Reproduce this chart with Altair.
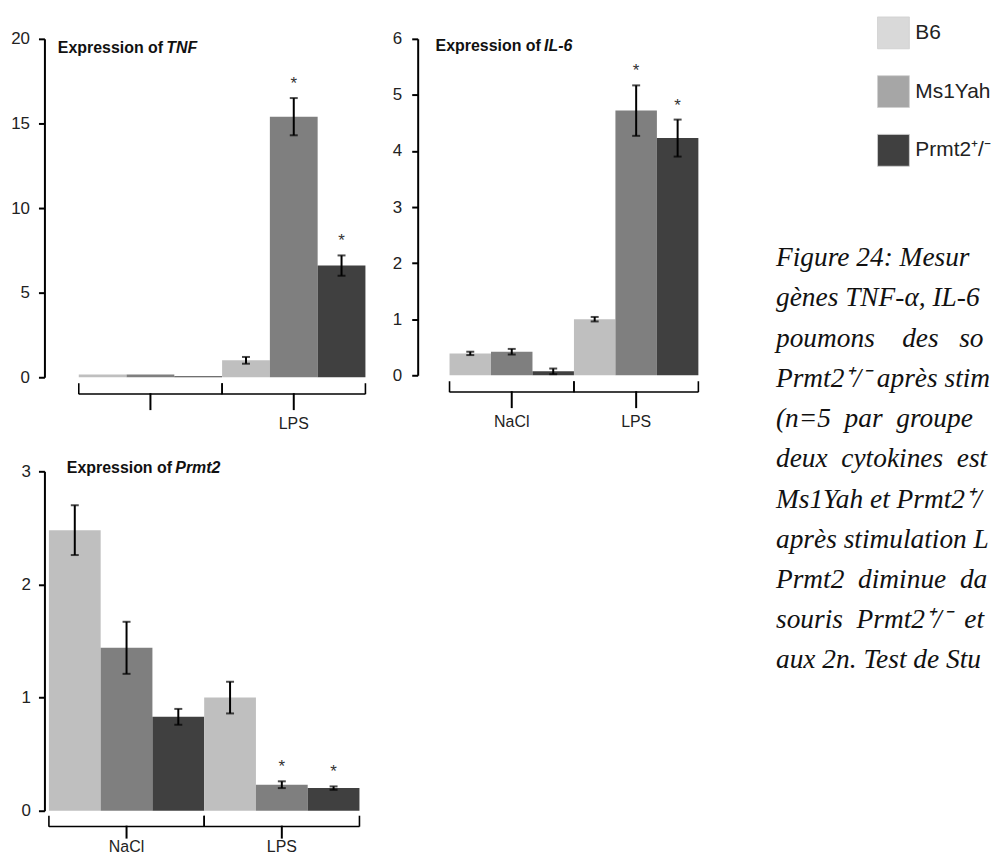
import altair as alt
import pandas as pd

# ---------------- data ----------------
conditions = ["NaCl", "LPS"]
genotypes = ["B6", "Ms1Yah", "Prmt2⁺/⁻"]
bar_colors = ["#bfbfbf", "#7f7f7f", "#404040"]
legend_colors = ["#d9d9d9", "#a6a6a6", "#404040"]

tnf_mean = [0.16, 0.16, 0.06, 1.0, 15.4, 6.6]
tnf_err = [0.0, 0.0, 0.0, 0.2, 1.1, 0.6]
tnf_sig = ["", "", "", "", "*", "*"]
tnf_ticks = [0, 5, 10, 15, 20]
tnf_groups = ["", "LPS"]
tnf_title = ["Expression of", "TNF"]

il6_mean = [0.39, 0.42, 0.07, 1.0, 4.72, 4.23]
il6_err = [0.03, 0.05, 0.05, 0.04, 0.45, 0.33]
il6_sig = ["", "", "", "", "*", "*"]
il6_ticks = [0, 1, 2, 3, 4, 5, 6]
il6_groups = ["NaCl", "LPS"]
il6_title = ["Expression of", "IL-6"]

prmt2_mean = [2.48, 1.44, 0.83, 1.0, 0.23, 0.20]
prmt2_err = [0.22, 0.23, 0.07, 0.14, 0.03, 0.015]
prmt2_sig = ["", "", "", "", "*", "*"]
prmt2_ticks = [0, 1, 2, 3]
prmt2_groups = ["NaCl", "LPS"]
prmt2_title = ["Expression of", "Prmt2"]

caption_lines = [
    "Figure 24: Mesur",
    "gènes TNF-α, IL-6",
    "poumons\u00a0\u00a0\u00a0 des\u00a0\u00a0 so",
    "Prmt2⁺/⁻ après stim",
    "(n=5\u00a0 par\u00a0 groupe",
    "deux\u00a0 cytokines\u00a0 est",
    "Ms1Yah et Prmt2⁺/",
    "après stimulation L",
    "Prmt2\u00a0 diminue\u00a0 da",
    "souris\u00a0 Prmt2⁺/⁻\u00a0 et",
    "aux 2n. Test de Stu",
]

SANS = "Liberation Sans, Arial, sans-serif"
SERIF = "Liberation Serif, Times New Roman, serif"


def panel(mean, err, sig, ticks, groups, title, width, height, pad_outer,
          label_pad, title_x, title_y, b_line, b_ptr, b_lab):
    rows = []
    for i, c in enumerate(conditions):
        for j, g in enumerate(genotypes):
            k = i * 3 + j
            rows.append(dict(cond=c, geno=g, mean=mean[k], err=err[k],
                             lo=mean[k] - err[k], hi=mean[k] + err[k], sig=sig[k]))
    df = pd.DataFrame(rows)

    xscale = alt.Scale(domain=conditions, paddingInner=0, paddingOuter=pad_outer, align=1)

    def X(bp=None):
        kw = dict(scale=xscale, axis=None, title=None)
        if bp is not None:
            kw["bandPosition"] = bp
        return alt.X("cond:N", **kw)

    xo = alt.XOffset("geno:N", scale=alt.Scale(domain=genotypes, paddingInner=0, paddingOuter=0))
    yscale = alt.Scale(domain=[ticks[0], ticks[-1]], nice=False, zero=True)
    yaxis = alt.Axis(values=ticks, title=None, grid=False, domainColor="black", domainWidth=2,
                     tickColor="black", tickWidth=2, tickSize=6, labelPadding=label_pad,
                     labelFont=SANS, labelFontSize=17, labelColor="#222")

    def Y(field):
        return alt.Y(field, scale=yscale, axis=yaxis)

    base = alt.Chart(df)
    bars = base.mark_bar().encode(
        x=X(), xOffset=xo, y=Y("mean:Q"),
        color=alt.Color("geno:N", scale=alt.Scale(domain=genotypes, range=bar_colors), legend=None),
    )
    eb = base.transform_filter("datum.err > 0")
    whisk = eb.mark_rule(color="black", strokeWidth=2).encode(x=X(), xOffset=xo, y=Y("lo:Q"), y2="hi:Q")
    cap_hi = eb.mark_tick(color="black", thickness=2, size=8).encode(x=X(), xOffset=xo, y=Y("hi:Q"))
    cap_lo = eb.mark_tick(color="black", thickness=2, size=8).encode(x=X(), xOffset=xo, y=Y("lo:Q"))
    star = base.mark_text(fontSize=17, dy=-14, color="#333", font=SANS).encode(
        x=X(), xOffset=xo, y=Y("hi:Q"), text="sig:N")

    bdf = alt.Chart(pd.DataFrame({"cond": conditions, "label": groups}))
    H = height
    hline = bdf.mark_bar(color="black").encode(x=X(), y=alt.value(H + b_line), y2=alt.value(H + b_line + 1.6))
    hook_l = bdf.mark_rule(color="black", strokeWidth=1.6).encode(
        x=X(0), y=alt.value(H + b_line - 10), y2=alt.value(H + b_line + 1))
    hook_r = bdf.mark_rule(color="black", strokeWidth=1.6).encode(
        x=X(1), y=alt.value(H + b_line - 10), y2=alt.value(H + b_line + 1))
    pointer = bdf.mark_rule(color="black", strokeWidth=2).encode(
        x=X(0.5), y=alt.value(H + b_line), y2=alt.value(H + b_ptr))
    glabel = bdf.mark_text(font=SANS, fontSize=16, color="#222", baseline="middle").encode(
        x=X(0.5), y=alt.value(H + b_lab), text="label:N")

    t1 = alt.Chart(pd.DataFrame({"t": [title[0]]})).mark_text(
        align="left", baseline="middle", font=SANS, fontSize=16, fontWeight="bold", color="#111"
    ).encode(x=alt.value(title_x), y=alt.value(title_y), text="t:N")
    t2 = alt.Chart(pd.DataFrame({"t": [title[1]]})).mark_text(
        align="left", baseline="middle", font=SANS, fontSize=16, fontWeight="bold",
        fontStyle="italic", color="#111"
    ).encode(x=alt.value(title_x + 109), y=alt.value(title_y), text="t:N")

    return alt.layer(bars, whisk, cap_hi, cap_lo, star, hline, hook_l, hook_r, pointer, glabel, t1, t2).properties(
        width=width, height=height)


tnf = panel(tnf_mean, tnf_err, tnf_sig, tnf_ticks, tnf_groups, tnf_title,
            322.5, 340, 34.5 / 288, 9, 13.5, 9.5, 16, 33, 47)
il6 = panel(il6_mean, il6_err, il6_sig, il6_ticks, il6_groups, il6_title,
            282, 338, 32 / 250, 10, 18, 7.5, 16, 33, 47)
prmt2 = panel(prmt2_mean, prmt2_err, prmt2_sig, prmt2_ticks, prmt2_groups, prmt2_title,
              316.5, 341, 4.5 / 312, 8, 22.5, -3, 15, 28, 36)

# caption (figure legend text) to the right of the IL-6 panel
cap_df = pd.DataFrame({"line": list(range(len(caption_lines))), "text": caption_lines})
caption = alt.Chart(cap_df).mark_text(
    align="left", baseline="middle", font=SERIF, fontSize=27.5, fontStyle="italic", color="#111"
).encode(
    x=alt.value(360),
    y=alt.Y("line:Q", scale=alt.Scale(domain=[0, len(caption_lines) - 1], range=[220.5, 624.5]), axis=None),
    text="text:N",
)

# colour key
key_df = pd.DataFrame({"geno": genotypes})
key_y = alt.Y("geno:N", scale=alt.Scale(type="point", domain=genotypes, range=[-6, 112], padding=0), axis=None)
key_sq = alt.Chart(key_df).mark_square(size=1024, opacity=1, stroke="#cfcfcf", strokeWidth=0.8).encode(
    x=alt.value(478), y=key_y,
    color=alt.Color("geno:N", scale=alt.Scale(domain=genotypes, range=legend_colors), legend=None),
)
key_tx = alt.Chart(key_df).mark_text(align="left", baseline="middle", font=SANS, fontSize=21, color="#222").encode(
    x=alt.value(500), y=key_y, text="geno:N")
key = alt.layer(key_sq, key_tx)

il6_full = alt.layer(il6, caption, key).resolve_scale(y="independent", color="independent")

chart = alt.concat(
    tnf, il6_full, prmt2, columns=2, bounds="flush", align="all",
    spacing=alt.RowColnumber(row=93.5, column=52),
).resolve_scale(xOffset="independent").properties(
    padding={"left": 2.6, "top": 5, "right": 0, "bottom": 0}
).configure_view(stroke=None)

chart.save("out.html", embed_options={"renderer": "svg", "actions": False})
